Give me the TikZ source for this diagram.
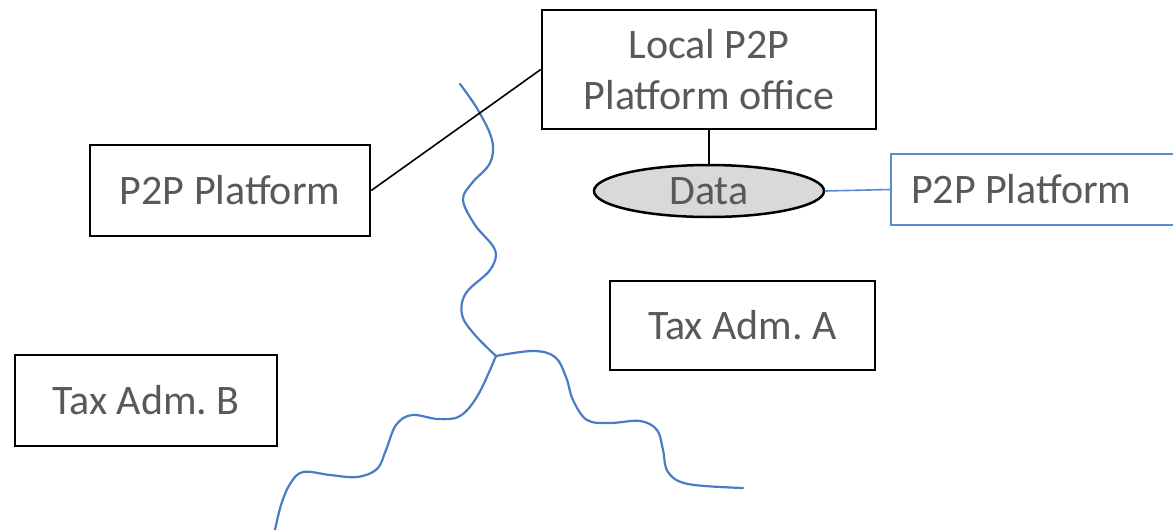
\documentclass[tikz,border=0pt]{standalone}
\usepackage{fontspec}
\setmainfont{Carlito}
\usetikzlibrary{shapes.geometric}
\definecolor{txt}{HTML}{595959}
\definecolor{wave}{HTML}{4A7CC4}
\definecolor{rblue}{HTML}{5B8BC9}
\definecolor{datafill}{HTML}{D9D9D9}
\frenchspacing
\begin{document}
\begin{tikzpicture}[x=1pt,y=-1pt,
  box/.style={draw=black, line width=2.5pt, fill=white, text=txt, inner sep=0pt,
    font=\fontsize{42}{51}\selectfont, align=center},
  databox/.style={ellipse, draw=black, line width=2.5pt, fill=datafill, text=txt, inner sep=0pt,
    font=\fontsize{42}{51}\selectfont},
  bluebox/.style={draw=rblue, line width=2pt, fill=white, text=txt, inner xsep=20pt, inner ysep=0pt,
    font=\fontsize{42}{51}\selectfont, align=flush left},
  link/.style={draw=black, line width=1.6pt},
  bluelink/.style={draw=rblue, line width=1.6pt},
  border/.style={draw=wave, line width=2.2pt, line cap=round, line join=round}
]
\useasboundingbox (0,0) rectangle (1173,530);

% waving borders
\coordinate (j) at (496,356);
\draw[border] plot[smooth, tension=0.6] coordinates {(460,84) (478,110) (492,140) (490,163) (472,183) (463,200) (475,225) (495,250) (490,270) (466,293) (462,315) (475,335) (j)};
\draw[border] plot[smooth, tension=0.6] coordinates {(j) (478,395) (460,416) (438,419) (412,415) (396,425) (386,450) (377,469) (357,477) (330,475) (303,472) (290,484) (281,505) (275,530)};
\draw[border] plot[smooth, tension=0.6] coordinates {(j) (533,351) (555,357) (566,377) (573,400) (587,420) (610,423) (640,421) (657,430) (663,450) (668,472) (688,484) (743,488)};

\node[box, minimum width=334pt, minimum height=119pt] (local) at (709,69.5) {Local P2P\\Platform office};
\node[box, minimum width=280pt, minimum height=91pt] (p2pl) at (230,190.5) {P2P Platform};
\node[databox, minimum width=230pt, minimum height=52pt] (data) at (709,191) {Data};
\node[bluebox, anchor=west, text width=300pt, minimum height=71pt] (p2pr) at (890,189.5) {P2P Platform};
\node[box, minimum width=265pt, minimum height=89pt] (taxa) at (742.5,325.5) {Tax Adm. A};
\node[box, minimum width=262pt, minimum height=91pt] (taxb) at (146,400.5) {Tax Adm. B};

\draw[link] (p2pl.east) -- (local.west);
\draw[link] (local.south) -- (data.north);
\draw[bluelink] (data.east) -- (p2pr.west);
\end{tikzpicture}
\end{document}
